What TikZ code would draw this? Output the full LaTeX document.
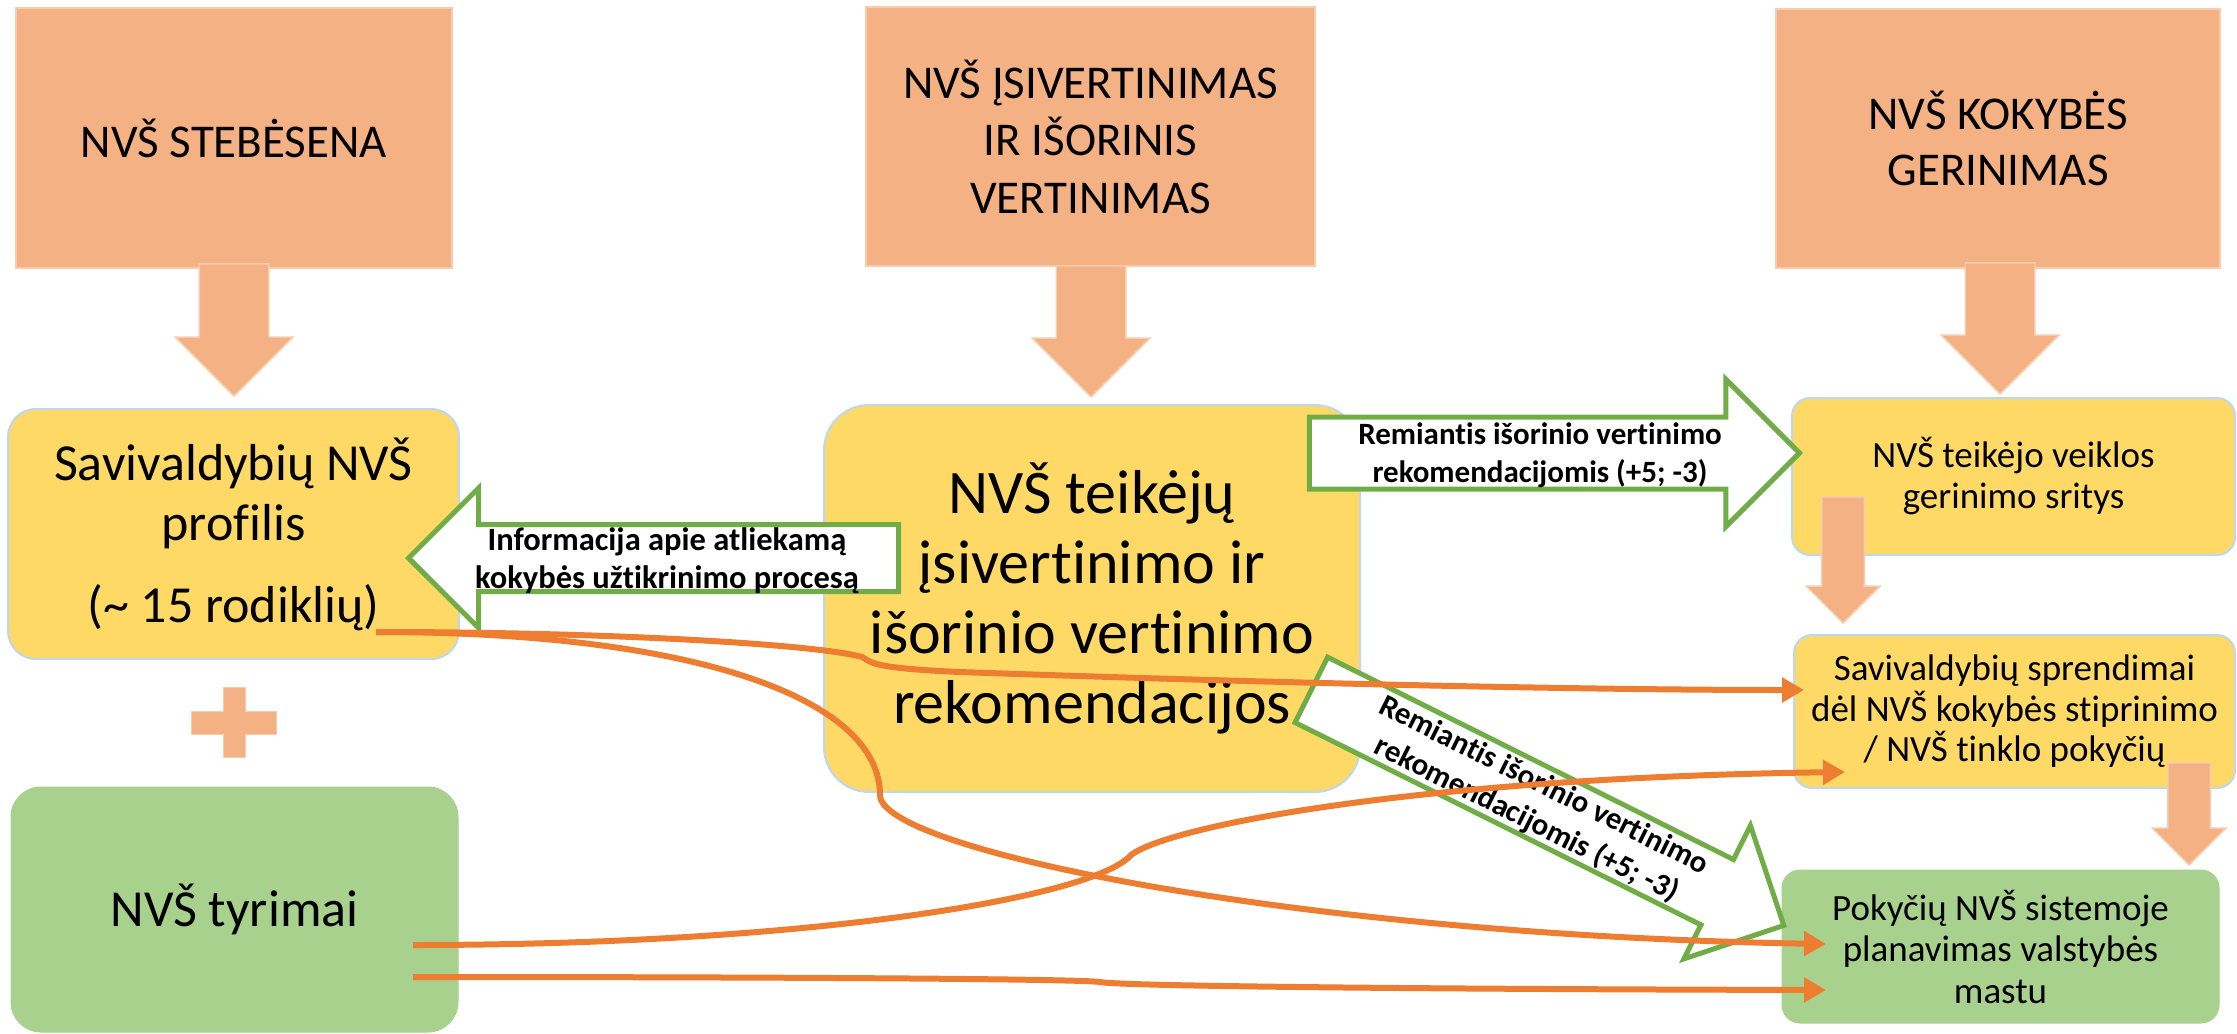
\documentclass[tikz,border=0pt]{standalone}
\usepackage{fontspec}
\setmainfont{Carlito}[Ligatures=NoCommon]
\usepackage{tikz}
\usetikzlibrary{arrows.meta}
\usetikzlibrary{shapes.arrows}

\definecolor{topfill}{HTML}{F4B183}
\definecolor{topedge}{HTML}{F8CBAD}
\definecolor{yelfill}{HTML}{FFD966}
\definecolor{yeledge}{HTML}{BDD7EE}
\definecolor{grnfill}{HTML}{A9D18E}
\definecolor{grnedge}{HTML}{70AD47}
\definecolor{linkcol}{HTML}{ED7D31}

\tikzset{
  topbox/.style={draw=topedge, fill=topfill, line width=1.5pt, inner sep=0pt, align=center,
    font=\fontsize{47}{57.5}\selectfont},
  yelbox/.style={draw=yeledge, fill=yelfill, line width=2pt, inner sep=0pt, align=center},
  grnbox/.style={draw=grnfill, fill=grnfill, line width=1pt, inner sep=0pt, align=center},
  downarr/.style={single arrow, shape border rotate=270, draw=topedge, fill=topfill,
    line width=1.5pt, minimum width=0pt, inner ysep=0pt, anchor=tip},
  infoarr/.style={single arrow, draw=grnedge, fill=white, line width=5pt,
    minimum width=0pt, inner xsep=0pt, anchor=tip},
  infotext/.style={align=center, font=\bfseries\fontsize{31}{38}\selectfont},
  link/.style={draw=linkcol, line width=6pt, -{Triangle[length=22pt,width=24pt]}}
}

\begin{document}
\begin{tikzpicture}[x=1pt, y=-1pt]
    \useasboundingbox (0,0) rectangle (2237,1033);
    \node[topbox, minimum width=436, minimum height=260] (A1) at (234,138) {NVŠ STEBĖSENA};
    \node[topbox, minimum width=449, minimum height=259] (A2) at (1090.5,136.5) {NVŠ ĮSIVERTINIMAS\\ IR IŠORINIS\\ VERTINIMAS};
    \node[topbox, minimum width=444, minimum height=259, font=\fontsize{47}{56}\selectfont] (A3) at (1998,138.5) {NVŠ KOKYBĖS\\ GERINIMAS};
    \node[yelbox, minimum width=451, minimum height=250, rounded corners=28, font=\fontsize{52}{60}\selectfont] (B1) at (233.5,534) {Savivaldybių NVŠ\\ profilis\\[22pt](\textasciitilde{} 15 rodiklių)};
    \node[yelbox, minimum width=536, minimum height=387, rounded corners=45, font=\fontsize{62}{70}\selectfont] (B2) at (1092,598.5) {NVŠ teikėjų\\ įsivertinimo ir\\ išorinio vertinimo\\ rekomendacijos};
    \node[yelbox, minimum width=443, minimum height=157, rounded corners=18, font=\fontsize{37}{41}\selectfont] (C1) at (2013.5,476.5) {NVŠ teikėjo veiklos\\ gerinimo sritys};
    \node[yelbox, minimum width=441, minimum height=153, rounded corners=18, font=\fontsize{37}{40.5}\selectfont] (C2) at (2014.5,711.5) {Savivaldybių sprendimai\\ dėl NVŠ kokybės stiprinimo\\ / NVŠ tinklo pokyčių};
    \node[grnbox, minimum width=447, minimum height=245, rounded corners=30, font=\fontsize{52}{60}\selectfont] (D1) at (234.5,909.5) {NVŠ tyrimai};
    \node[grnbox, minimum width=437, minimum height=153, rounded corners=18, font=\fontsize{37}{41.5}\selectfont] (C3) at (2000.5,946.5) {Pokyčių NVŠ sistemoje\\ planavimas valstybės\\ mastu};

    \draw[draw=topedge, fill=topfill, line width=1pt] (223,687) -- (245,687) -- (245,711) -- (276,711) -- (276,734) -- (245,734) -- (245,757) -- (223,757) -- (223,734) -- (191,734) -- (191,711) -- (223,711) -- cycle;

    \node[infoarr, minimum height=490, inner ysep=33.5, single arrow head extend=37.5] (E1) at (1803,453) {};
    \node[infotext] (E1t) at (1540,455) {Remiantis išorinio vertinimo\\ rekomendacijomis (+5; -3)};
    \node[infoarr, shape border rotate=180, minimum height=490, inner ysep=31, single arrow head extend=36.5] (E2) at (405,558) {};
    \node[infotext, font=\bfseries\fontsize{32.5}{38}\selectfont] (E2t) at (667,561) {Informacija apie atliekamą\\ kokybės užtikrinimo procesą};
    \node[infoarr, rotate=-26.5, minimum height=528, inner ysep=34, single arrow head extend=38] (E3) at (1787,927) {};
    \node[infotext, rotate=-26.5] (E3t) at (1535,803) {Remiantis išorinio vertinimo\\ rekomendacijomis (+5; -3)};

    \node[downarr, minimum height=132, inner xsep=34, single arrow head extend=24] (F1) at (234,397) {};
    \node[downarr, minimum height=131, inner xsep=34, single arrow head extend=24] (F2) at (1091,398) {};
    \node[downarr, minimum height=131, inner xsep=34, single arrow head extend=24] (F3) at (2000,395) {};
    \node[downarr, minimum height=126, inner xsep=20.5, single arrow head extend=15.5] (F4) at (1843,624) {};
    \node[downarr, minimum height=102, inner xsep=20.5, single arrow head extend=15.5] (F5) at (2189,866) {};

    \coordinate (p1) at (376,632);
    \coordinate (p2) at (413,945);
    \coordinate (p3) at (413,977);
    \coordinate (q1) at (1804,690);
    \coordinate (q2) at (1845,772);
    \coordinate (q3) at (1826,944);
    \coordinate (q4) at (1826,990);
    \draw[link] (p1) .. controls (620,632) and (820,645) .. (862,657) .. controls (872,662) and (868,668) .. (960,672) .. controls (1300,684) and (1600,690) .. (q1);
    \draw[link] (p1) .. controls (700,632) and (880,700) .. (880,795) .. controls (880,850) and (1300,935) .. (q3);
    \draw[link] (p2) .. controls (800,945) and (1080,900) .. (1128,858) .. controls (1150,830) and (1400,778) .. (q2);
    \draw[link] (p3) .. controls (800,977) and (1080,979) .. (1100,982) .. controls (1120,986) and (1400,989) .. (q4);
  \end{tikzpicture}
\end{document}
